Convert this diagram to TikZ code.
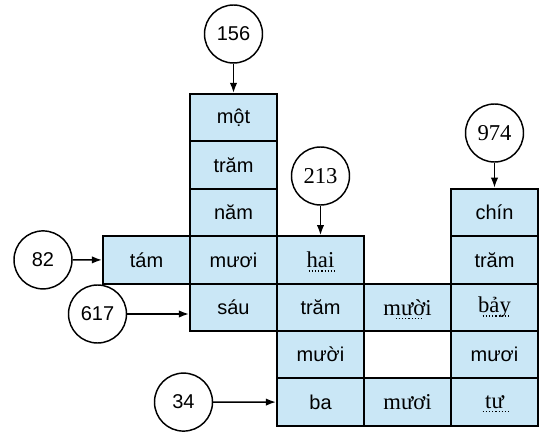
\documentclass[tikz,border=0pt]{standalone}
\usepackage{fontspec}
\setmainfont{Liberation Serif}
\setsansfont{Liberation Sans}
\usetikzlibrary{arrows.meta}
\definecolor{cellblue}{RGB}{202,231,246}
\tikzset{
  cell/.style={draw, line width=1.6pt, fill=cellblue, minimum width=65.25pt, minimum height=35.55pt, inner sep=0pt, font=\sffamily\fontsize{15}{18}\selectfont},
  answer/.style={font=\rmfamily\fontsize{17}{20}\selectfont},
  num/.style={draw, circle, fill=white, line width=1.1pt, minimum size=43.5pt, inner sep=0pt, font=\sffamily\fontsize{15}{18}\selectfont},
  arr/.style={line width=1.1pt, -{Latex[length=7.5pt,width=5.5pt]}},
  dotline/.style={line width=0.9pt, dash pattern=on 0.9pt off 1.5pt},
}
\begin{document}
\begin{tikzpicture}[x=0.75pt, y=-0.75pt]
    \useasboundingbox (0,0) rectangle (550,438);
    \def\w{87}
    \def\h{47.4}

    % Ô chữ in sẵn: cột/hàng/chữ
    \foreach \c/\r/\t in {2/1/một, 2/2/trăm, 2/3/năm, 2/4/mươi, 2/5/sáu, 1/4/tám,
                          3/5/trăm, 3/6/mười, 3/7/ba, 5/3/chín, 5/4/trăm, 5/6/mươi}
        \node[cell] (c\c\r) at ({103+\w*(\c-0.5)}, {94+\h*(\r-0.5)}) {\t};

    % Ô chữ điền vào
    \foreach \c/\r/\t in {3/4/hai, 4/5/mười, 4/7/mươi, 5/5/bảy, 5/7/tư}
        \node[cell, answer] (c\c\r) at ({103+\w*(\c-0.5)}, {94+\h*(\r-0.5)}) {\t};

    % Dòng chấm
    \foreach \n in {c34, c45, c55, c57}
        \draw[dotline] ([shift={(-9pt,-2.5pt)}]\n.base) -- ([shift={(12pt,-2.5pt)}]\n.base);

    % Các số
    \node[num] (n156) at (233.5,34) {156};
    \node[num, answer] (n213) at (320.5,176) {213};
    \node[num, answer] (n974) at (494.5,133) {974};
    \node[num] (n82) at (43,259.9) {82};
    \node[num] (n617) at (97.5,314) {617};
    \node[num] (n34) at (183.5,402.1) {34};

    % Mũi tên
    \draw[arr] (n156) -- (c21);
    \draw[arr] (n213) -- (c34);
    \draw[arr] (n974) -- (c53);
    \draw[arr] (n82) -- (c14);
    \draw[arr] (n617.east) -- (n617 -| c25.west);
    \draw[arr] (n34) -- (c37);

\end{tikzpicture}
\end{document}
